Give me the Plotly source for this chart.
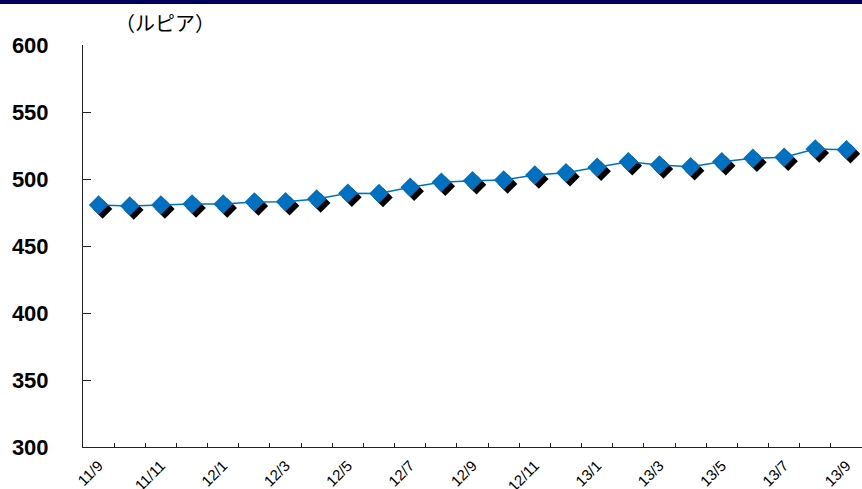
import plotly.graph_objects as go

# Monthly rate, Sep 2011 - Sep 2013 (rupiah)
months = ["11/9", "11/10", "11/11", "11/12",
          "12/1", "12/2", "12/3", "12/4", "12/5", "12/6", "12/7", "12/8",
          "12/9", "12/10", "12/11", "12/12",
          "13/1", "13/2", "13/3", "13/4", "13/5", "13/6", "13/7", "13/8", "13/9"]
values = [480.6, 479.9, 480.6, 481.3, 481.3, 482.8, 483.0, 485.0, 489.4,
          489.1, 493.8, 497.5, 498.7, 499.3, 503.0, 504.7, 508.7,
          512.9, 510.4, 509.2, 512.9, 515.4, 516.2, 522.4, 521.9]
tick_labels = [m if i % 2 == 0 else "" for i, m in enumerate(months)]
y_ticks = [300, 350, 400, 450, 500, 550, 600]

BLUE = "#0070C0"
W, H = 862, 489
M_L, M_R, M_T, M_B = 83, 0, 45, 42
plot_w = W - M_L - M_R
plot_h = H - M_T - M_B
n = len(months)
cat_px = plot_w / n
unit_px = plot_h / 300.0

# drop-shadow offset in pixels
dx, dy = 4, 4

fig = go.Figure()

# shadow markers on hidden, slightly shifted axes
fig.add_trace(go.Scatter(
    x=months, y=values, mode="markers",
    marker=dict(symbol="diamond", size=15, color="black"),
    xaxis="x", yaxis="y", hoverinfo="skip", showlegend=False,
))

# main series
fig.add_trace(go.Scatter(
    x=months, y=values, mode="lines+markers",
    line=dict(color=BLUE, width=1.5),
    marker=dict(symbol="diamond", size=15, color=BLUE),
    xaxis="x2", yaxis="y2", showlegend=False,
))

fig.update_layout(
    width=W, height=H,
    margin=dict(l=M_L, r=M_R, t=M_T, b=M_B),
    paper_bgcolor="white", plot_bgcolor="white",
    xaxis=dict(
        type="category", categoryorder="array", categoryarray=months,
        range=[-0.5 - dx / cat_px, n - 0.5 - dx / cat_px],
        visible=False, fixedrange=True, automargin=False,
    ),
    yaxis=dict(
        range=[300 + dy / unit_px, 600 + dy / unit_px],
        visible=False, fixedrange=True, automargin=False,
    ),
    xaxis2=dict(
        type="category", categoryorder="array", categoryarray=months,
        overlaying="x", anchor="y2", automargin=False,
        range=[-0.5, n - 0.5],
        tickmode="array", tickvals=months, ticktext=tick_labels,
        tickson="boundaries", ticks="inside", ticklen=4,
        tickcolor="#222", tickwidth=1,
        tickangle=-45, ticklabelstandoff=3,
        tickfont=dict(family="Liberation Sans, Arial", size=15, color="black"),
        showline=True, linecolor="#222", linewidth=1,
        showgrid=False, zeroline=False,
    ),
    yaxis2=dict(
        overlaying="y", anchor="x2", automargin=False,
        range=[300, 600],
        tickmode="array", tickvals=y_ticks,
        ticks="inside", ticklen=8, tickcolor="#222", tickwidth=1,
        ticklabelstandoff=29,
        tickfont=dict(family="Liberation Sans, Arial", size=22, color="black",
                      weight="bold"),
        showline=True, linecolor="#222", linewidth=1,
        showgrid=False, zeroline=False,
    ),
    shapes=[dict(
        type="rect", xref="paper", yref="paper",
        x0=-M_L / plot_w - 0.01, x1=1.01,
        y0=1 + (M_T - 4) / plot_h, y1=1 + (M_T + 1) / plot_h,
        fillcolor="#00005E", line=dict(width=0), layer="above",
    )],
    annotations=[dict(
        text="（ルピア）", xref="paper", yref="paper",
        x=(165 - M_L) / plot_w, y=1 + (M_T - 22) / plot_h,
        xanchor="center", yanchor="middle", showarrow=False,
        font=dict(family="Noto Sans CJK JP", size=20, color="black"),
    )],
)

fig.write_html("out.html")
